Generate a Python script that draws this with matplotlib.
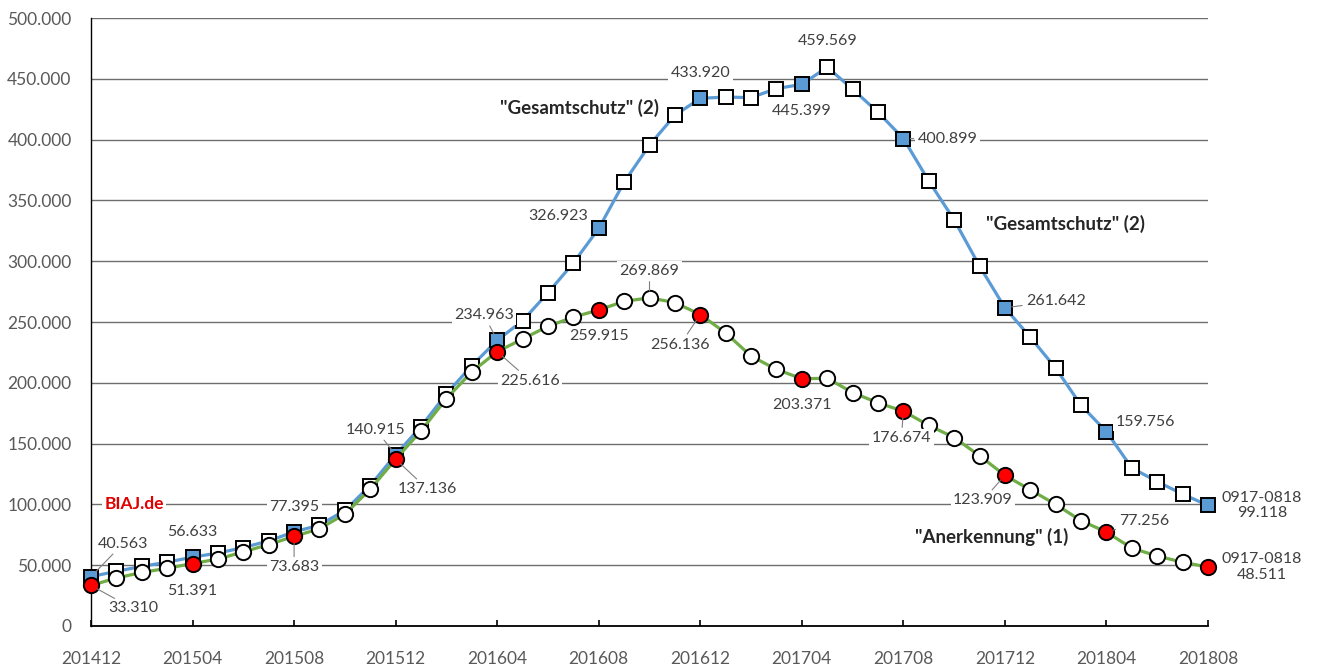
import matplotlib.pyplot as plt
from matplotlib.ticker import FuncFormatter

plt.rcParams['font.family'] = ['Lato', 'DejaVu Sans']

# -----------------------------
# data (monthly, 201412 .. 201808)
# -----------------------------
tick_labels = ['201412', '201504', '201508', '201512', '201604', '201608',
               '201612', '201704', '201708', '201712', '201804', '201808']

gesamtschutz = [40563, 45000, 49000, 52500, 56633, 60000, 64500, 70000, 77395,
                83000, 95000, 115500, 140915, 164000, 191000, 214000, 234963,
                251000, 274000, 298500, 326923, 365000, 395500, 420000, 433920,
                435000, 434500, 442000, 445399, 459569, 441500, 422500, 400899,
                366000, 334000, 296000, 261642, 237500, 212000, 181500, 159756,
                130000, 118700, 108500, 99118]

anerkennung = [33310, 39500, 44000, 47500, 51391, 55000, 61000, 67000, 73683,
               80000, 92000, 112500, 137136, 160500, 187000, 209000, 225616,
               236000, 246500, 254000, 259915, 267000, 269869, 266000, 256136,
               241000, 222000, 211000, 203371, 203700, 192000, 183500, 176674,
               165000, 155000, 140000, 123909, 112000, 100000, 86600, 77256,
               64000, 57600, 52400, 48511]

# labelled points: index, text offset in pixels, leader line
blue_labels = [(0, (32, 33), True), (4, (0, 25), False), (8, (0, 25), False),
               (12, (-20, 25), True), (16, (-13, 25), True), (20, (-41, 12), False),
               (24, (0, 25), False), (28, (0, -27), False), (29, (0, 26), False),
               (32, (44, 0), True), (36, (51, 7), True), (40, (39, 10), False)]
green_labels = [(0, (42, -23), True), (4, (0, -27), False), (8, (0, -31), True),
                (12, (32, -30), True), (16, (33, -29), True), (20, (0, -26), False),
                (22, (0, 27), True), (24, (-20, -30), True), (28, (0, -26), False),
                (32, (-2, -27), True), (36, (-22, -25), True), (40, (38, 11), True)]

BLUE = '#5B9BD5'
GREEN = '#70AD47'
LABEL_COLOR = '#404040'
TICK_COLOR = '#595959'


def de_fmt(v, pos=None):
    return f'{int(v):,}'.replace(',', '.')


x = list(range(len(gesamtschutz)))

fig = plt.figure(figsize=(13.2, 6.68), dpi=100)
ax = fig.add_axes([91 / 1320, 1 - 626 / 668, (1208 - 91) / 1320, (626 - 18) / 668])

ax.plot(x, gesamtschutz, color=BLUE, lw=2.3, zorder=3)
ax.plot(x, anerkennung, color=GREEN, lw=2.3, zorder=5)

blue_face = [BLUE if i % 4 == 0 else 'white' for i in x]
red_face = ['#FF0000' if i % 4 == 0 else 'white' for i in x]
for i in x:
    ax.plot(x[i], gesamtschutz[i], marker='s', ms=10, mfc=blue_face[i],
            mec='black', mew=1.4, zorder=4, clip_on=False)
    ax.plot(x[i], anerkennung[i], marker='o', ms=11, mfc=red_face[i],
            mec='black', mew=1.4, zorder=6, clip_on=False)

box = dict(boxstyle='square,pad=0.15', fc='white', ec='none')
lead = dict(arrowstyle='-', color='#7F7F7F', lw=0.8, shrinkA=1, shrinkB=5)

for series, labels in [(gesamtschutz, blue_labels), (anerkennung, green_labels)]:
    for i, off, has_lead in labels:
        ax.annotate(de_fmt(series[i]), (x[i], series[i]), xytext=off,
                    textcoords='offset pixels', ha='center', va='center',
                    fontsize=11.5, color=LABEL_COLOR, bbox=box, zorder=8,
                    arrowprops=lead if has_lead else None)

# end labels
for series in [gesamtschutz, anerkennung]:
    ax.annotate('0917-0818\n' + de_fmt(series[-1]), (x[-1], series[-1]),
                xytext=(54, 0), textcoords='offset pixels', ha='center', va='center',
                fontsize=11.5, color=LABEL_COLOR, linespacing=1.15,
                annotation_clip=False)

# series names
name_style = dict(transform=ax.transAxes, ha='center', va='center', fontsize=13.5,
                  fontweight='bold', color='#262626', bbox=box, zorder=8)
ax.text((579 - 91) / 1117, (626 - 108) / 608, '"Gesamtschutz" (2)', **name_style)
ax.text((1065 - 91) / 1117, (626 - 224) / 608, '"Gesamtschutz" (2)', **name_style)
ax.text((992 - 91) / 1117, (626 - 537) / 608, '"Anerkennung" (1)', **name_style)
ax.text((134 - 91) / 1117, (626 - 504) / 608, 'BIAJ.de', transform=ax.transAxes,
        ha='center', va='center', fontsize=12.5, fontweight='bold',
        color='#E00000', bbox=box, zorder=8)

# axes
ax.set_xlim(0, len(x) - 1)
ax.set_ylim(0, 500000)
ax.set_yticks(range(0, 500001, 50000))
ax.yaxis.set_major_formatter(FuncFormatter(de_fmt))
ax.set_xticks(x[::4])
ax.set_xticklabels(tick_labels)
ax.grid(axis='y', color='#6E6E6E', lw=1.0, zorder=1)
ax.set_axisbelow(True)
for s in ['top', 'right']:
    ax.spines[s].set_visible(False)
ax.spines['left'].set_color('black')
ax.spines['bottom'].set_color('black')
ax.spines['bottom'].set_linewidth(1.3)
ax.spines['left'].set_linewidth(1.0)
ax.tick_params(axis='y', length=0, pad=14, labelsize=12.5, labelcolor=TICK_COLOR)
ax.tick_params(axis='x', direction='in', length=4, width=1.2, pad=18,
               labelsize=12.5, labelcolor=TICK_COLOR)

plt.savefig('out.png', dpi=100)
